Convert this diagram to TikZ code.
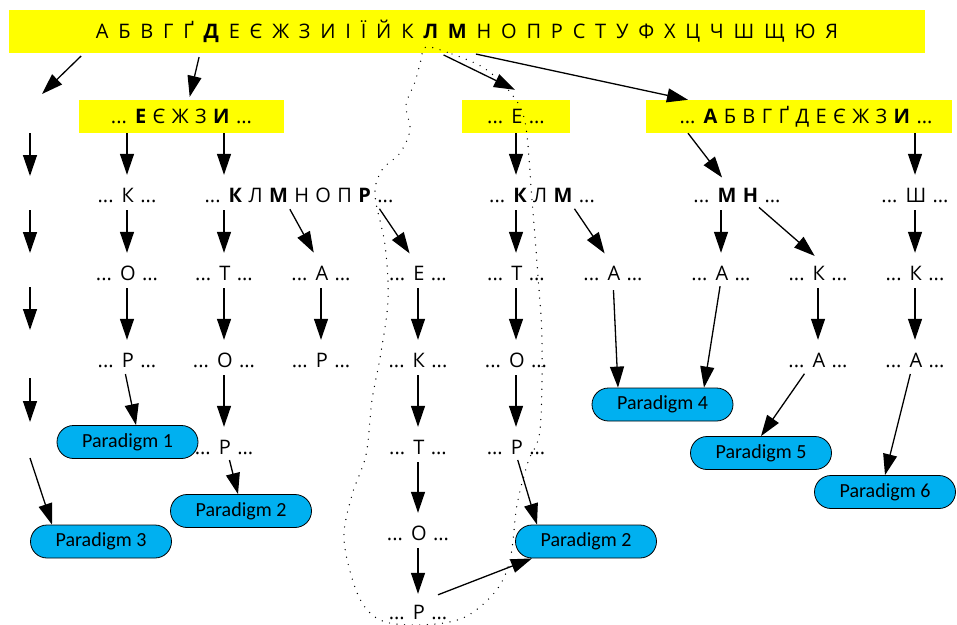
\documentclass[tikz,border=0pt]{standalone}
\usepackage{fontspec}
\setmainfont{Carlito}
\newfontfamily\cyr{Open Sans}
\usetikzlibrary{arrows.meta,shapes.misc,calc}
\definecolor{barYellow}{RGB}{255,255,0}
\definecolor{paraBlue}{RGB}{0,176,240}
\newcommand{\bd}[1]{\textbf{#1}}
\newcommand{\wordgap}[1]{\spaceskip=#1\relax}

\tikzset{
  txt/.style={font=\cyr\fontsize{20}{24}\selectfont, execute at begin node=\wordgap{6.4pt}},
  lbl/.style={txt, inner xsep=1pt, inner ysep=0pt, text height=14pt, text depth=0pt},
  bar/.style={txt, fill=barYellow, inner sep=0pt, text height=14pt, text depth=0pt},
  para/.style={rounded rectangle, draw=black, fill=paraBlue, line width=0.8pt,
    minimum width=141pt, minimum height=33pt, inner sep=0pt,
    font=\fontsize{20}{24}\selectfont},
  arr/.style={-{Triangle[length=21pt,width=14pt]}, line width=1.3pt},
  varr/.style={arr, shorten <=8pt, shorten >=13pt},
  trace/.style={line width=1.4pt, dash pattern=on 0pt off 7.6pt, line cap=round}
}

\begin{document}
\begin{tikzpicture}[x=1pt,y=-1pt]
\useasboundingbox (0,0) rectangle (957,624);

% alphabet bar and the three sub-ranges
\node[bar, minimum width=916pt, minimum height=43pt, execute at begin node=\wordgap{9.8pt}] (alpha) at (467,31.5)
  {А Б В Г Ґ \bd{Д} Е Є Ж З И І Ї Й К \bd{Л} \bd{М} Н О П Р С Т У Ф Х Ц Ч Ш Щ Ю Я};
\node[bar, minimum width=205pt, minimum height=33pt] (subA) at (181.5,116.5) {... \bd{Е} Є Ж З \bd{И} ...};
\node[bar, minimum width=108pt, minimum height=33pt] (subB) at (516,116.5) {... Е ...};
\node[bar, minimum width=306pt, minimum height=33pt] (subC) at (799,116.5) {\hspace*{14pt}... \bd{А} Б В Г Ґ Д Е Є Ж З \bd{И} ...};

% column A (no letters)
\coordinate (a0) at (42,94);
\coordinate (a1t) at (30,133); \coordinate (a1b) at (30,176);
\coordinate (a2t) at (30,210); \coordinate (a2b) at (30,253);
\coordinate (a3t) at (30,287); \coordinate (a3b) at (30,330);
\coordinate (a4t) at (30,378); \coordinate (a4b) at (30,422);
\coordinate (a5t) at (30,458);

% row 2
\node[lbl] (bK) at (127,195) {... К ...};
\node[lbl] (cK) at (299,195) {... \bd{К} Л \bd{М} Н О П \bd{Р} ...};
\node[lbl] (fK) at (542,195) {... \bd{К} Л \bd{М} ...};
\node[lbl] (hM) at (737,195) {... \bd{М} \bd{Н} ...};
\node[lbl] (iS) at (915,195) {... Ш ...};
% row 3
\node[lbl] (bO) at (127,273) {... О ...};
\node[lbl] (cT) at (224,273) {... Т ...};
\node[lbl] (dA) at (321,273) {... А ...};
\node[lbl] (eE) at (418,273) {... Е ...};
\node[lbl] (fT) at (516,273) {... Т ...};
\node[lbl] (gA) at (613,273) {... А ...};
\node[lbl] (hA) at (721,273) {... А ...};
\node[lbl] (hK) at (818,273) {... К ...};
\node[lbl] (iK) at (915,273) {... К ...};
% row 4
\node[lbl] (bP) at (127,360) {... Р ...};
\node[lbl] (cO) at (224,360) {... О ...};
\node[lbl] (dP) at (321,360) {... Р ...};
\node[lbl] (eK) at (418,360) {... К ...};
\node[lbl] (fO) at (516,360) {... О ...};
\node[lbl] (hB) at (818,360) {... А ...};
\node[lbl] (iA) at (915,360) {... А ...};
% rows 5-7
\node[lbl] (cP) at (224,447) {... Р ...};
\node[lbl] (eT) at (418,447) {... Т ...};
\node[lbl] (fP) at (516,447) {... Р ...};
\node[lbl] (eO) at (418,533) {... О ...};
\node[lbl] (eP) at (418,612) {... Р ...};

% paradigms
\node[para] (p1) at (127.5,442) {Paradigm 1};
\node[para] (p2a) at (241,511) {Paradigm 2};
\node[para] (p3) at (101,541.5) {Paradigm 3};
\node[para] (p2b) at (586,541.5) {Paradigm 2};
\node[para] (p4) at (662.5,404.5) {Paradigm 4};
\node[para] (p5) at (761,453) {Paradigm 5};
\node[para] (p6) at (885,492) {Paradigm 6};

% from the alphabet bar
\draw[arr, shorten <=4pt] ([xshift=-383pt]alpha.south) -- (a0);
\draw[arr, shorten <=4pt, shorten >=3pt] ([xshift=-267pt]alpha.south) -- ([xshift=7.5pt]subA.north);
\draw[arr, shorten <=4pt] ([xshift=-27pt]alpha.south) -- ([xshift=-1pt,yshift=10pt]subB.north);
\draw[arr, shorten <=4pt] ([xshift=5pt]alpha.south) -- ([xshift=-111pt]subC.north);

% column A
\draw[arr] (a1t) -- (a1b);
\draw[arr] (a2t) -- (a2b);
\draw[arr] (a3t) -- (a3b);
\draw[arr] (a4t) -- (a4b);
\draw[arr] (a5t) -- ([xshift=-49pt]p3.north);

% column B
\draw[varr, shorten <=0pt] (subA.south -| bK) -- (bK.north);
\draw[varr] (bK) -- (bO);
\draw[varr] (bO) -- (bP);
\draw[arr, shorten <=7pt] ([xshift=-3pt]bP.south) -- ([xshift=8.5pt]p1.north);

% column C and the branches of К Л М Н О П Р
\draw[varr, shorten <=0pt] (subA.south -| cT) -- (cK.north -| cT);
\draw[varr] (cK.south -| cT) -- (cT.north);
\draw[varr] (cT) -- (cO);
\draw[varr] (cO) -- (cP);
\draw[arr, shorten <=6pt] ([xshift=4pt]cP.south) -- ([xshift=-3pt]p2a.north);
\draw[arr, shorten <=8pt, shorten >=15pt] ([xshift=-13pt]cK.south) -- (dA.north);
\draw[varr] (dA) -- (dP);
\draw[arr, shorten <=8pt, shorten >=15pt] ([xshift=76pt]cK.south) -- (eE.north);
\draw[varr] (eE) -- (eK);
\draw[varr] (eK) -- (eT);
\draw[varr] (eT) -- (eO);
\draw[varr, shorten >=11pt] (eO) -- (eP);
\draw[arr] ([shift={(20pt,10pt)}]eP.north) -- (p2b.south west);

% column F
\draw[varr, shorten <=0pt] (subB.south -| fT) -- (fK.north -| fT);
\draw[varr] (fK.south -| fT) -- (fT.north);
\draw[varr] (fT) -- (fO);
\draw[varr] (fO) -- (fP);
\draw[arr, shorten <=6pt] (fP.south) -- ([xshift=-49pt]p2b.north);
\draw[arr, shorten <=8pt, shorten >=15pt] ([xshift=28pt]fK.south) -- (gA.north);
\draw[arr, shorten <=10pt] (gA.south) -- ([xshift=-44.5pt]p4.north);

% column H
\draw[arr, shorten <=0pt, shorten >=13pt] ([xshift=-111pt]subC.south) -- ([xshift=-7pt]hM.north);
\draw[varr] (hM.south -| hA) -- (hA.north);
\draw[arr, shorten <=6pt] (hA.south) -- ([xshift=41.5pt]p4.north);
\draw[arr, shorten <=8pt, shorten >=15pt] ([xshift=16pt]hM.south) -- ([xshift=8pt]hK.north);
\draw[varr] (hK) -- (hB);
\draw[arr, shorten <=8pt] ([xshift=-9pt]hB.south) -- (p5.north);

% column I
\draw[varr, shorten <=0pt] (subC.south -| iS) -- (iS.north);
\draw[varr] (iS) -- (iK);
\draw[varr] (iK) -- (iA);
\draw[arr, shorten <=7pt] ([xshift=-3pt]iA.south) -- (p6.north);

% dotted outline around the Л/М path
\draw[trace] plot[smooth cycle, tension=0.55] coordinates {
  (426,47) (452,54) (484,68) (510,92) (525,122) (532,200) (538,277)
  (542,340) (540,430) (528,462) (517,505) (510,560) (495,592) (463,618)
  (420,625) (380,620) (358,595) (344,540) (352,495) (366,455) (372,400)
  (380,358) (388,300) (385,245) (375,195) (382,170) (400,153) (410,130)
  (406,105) (415,82) (421,60)};
\end{tikzpicture}
\end{document}
